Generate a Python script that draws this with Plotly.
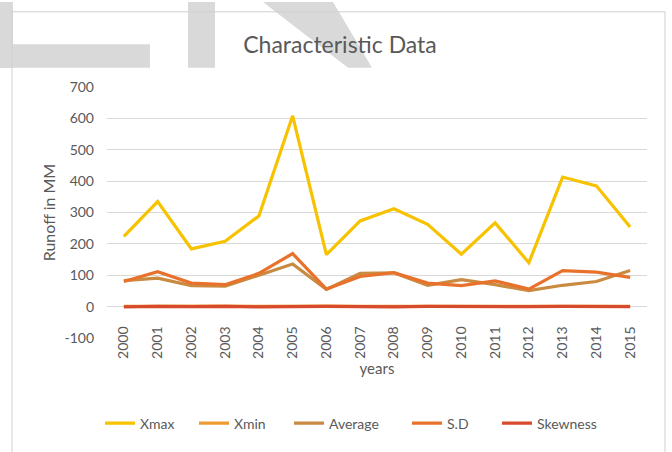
import plotly.graph_objects as go

years = [str(y) for y in range(2000, 2016)]
xmax = [224, 335, 184, 208, 289, 608, 166, 273, 312, 262, 167, 267, 140, 413, 385, 254]
xmin = [1, 2, 1, 2, 1, 2, 2, 1, 1, 2, 1, 2, 1, 2, 2, 1]
average = [83, 91, 67, 65, 100, 136, 55, 106, 108, 68, 86, 70, 51, 68, 80, 115]
sd = [80, 111, 75, 70, 106, 169, 56, 96, 108, 75, 67, 82, 56, 115, 110, 93]
skewness = [-1, 1, 0, 1, -1, 1, 1, 0, -1, 1, 0, 1, 0, 1, 1, 0]

y_ticks = [-100, 0, 100, 200, 300, 400, 500, 600, 700]
y_tick_labels = ["-100", "0", "100", "200", "300", "400", "500", "600", "700"]

names = ["Xmax", "Xmin", "Average", "S.D", "Skewness"]
colors = ["#F7C200", "#EE9A33", "#C98B42", "#E8722B", "#D84A2C"]
series = [xmax, xmin, average, sd, skewness]
legend_text_starts = [141, 235, 330, 448, 538]  # pixel x where each legend label begins

W, H = 672, 452
L, R, T, B = 107, 647, 86.7, 342.7

def px(x):
    return (x - L) / (R - L)

def py(y):
    return (B - y) / (B - T)

font_family = "Lato, 'Open Sans', sans-serif"
grey = "#595959"

fig = go.Figure()
legend_layout = {}
for i, (n, c, s, ts) in enumerate(zip(names, colors, series, legend_text_starts)):
    key = "legend" if i == 0 else "legend%d" % (i + 1)
    fig.add_trace(go.Scatter(x=years, y=s, name=n, mode="lines",
                             line=dict(color=c, width=3.2), legend=key))
    legend_layout[key] = dict(x=px(ts - 41), xanchor="left", y=py(430), yanchor="middle",
                              font=dict(size=14, color=grey, family=font_family),
                              bgcolor="rgba(0,0,0,0)", borderwidth=0,
                              itemwidth=30, tracegroupgap=0)

shapes = []
wm = "#d9d9d9"
shapes.append(dict(type="rect", xref="paper", yref="paper", x0=px(0), x1=px(13), y0=py(67), y1=py(0),
                   fillcolor=wm, line=dict(width=0), layer="below"))
shapes.append(dict(type="rect", xref="paper", yref="paper", x0=px(0), x1=px(150), y0=py(67), y1=py(43),
                   fillcolor=wm, line=dict(width=0), layer="below"))
shapes.append(dict(type="rect", xref="paper", yref="paper", x0=px(188), x1=px(215), y0=py(67), y1=py(0),
                   fillcolor=wm, line=dict(width=0), layer="below"))
path = "M {},{} L {},{} L {},{} L {},{} Z".format(px(263), py(0), px(333), py(0), px(372), py(67), px(348), py(67))
shapes.append(dict(type="path", xref="paper", yref="paper", path=path,
                   fillcolor=wm, line=dict(width=0), layer="below"))
shapes.append(dict(type="rect", xref="paper", yref="paper", x0=px(12), x1=px(665), y0=py(460), y1=py(10),
                   fillcolor="rgba(0,0,0,0)", line=dict(color="#d0d0d0", width=1), layer="below"))

fig.update_layout(
    width=W, height=H,
    margin=dict(l=L, r=W - R, t=T, b=H - B, pad=0),
    paper_bgcolor="white", plot_bgcolor="rgba(0,0,0,0)",
    font=dict(family=font_family, color=grey, size=14),
    title=dict(text="Characteristic Data", x=340 / W, xref="container", xanchor="center",
               y=1 - 45 / H, yref="container", yanchor="middle",
               font=dict(size=23, color=grey, family=font_family)),
    showlegend=True,
    shapes=shapes,
    xaxis=dict(type="category", range=[-0.5, len(years) - 0.5], anchor="free", position=py(310.7),
               showgrid=False, showline=False, zeroline=False, ticks="", tickangle=-90,
               tickfont=dict(size=14, color=grey), ticklabelstandoff=16,
               title=dict(text="years", font=dict(size=15, color=grey), standoff=5)),
    yaxis=dict(range=[-100, 700], tickvals=y_ticks, ticktext=y_tick_labels, showgrid=True,
               gridcolor="#d9d9d9", gridwidth=1, zeroline=False, showline=False, ticks="",
               tickfont=dict(size=14, color=grey), ticklabelstandoff=12,
               title=dict(text="Runoff in MM", font=dict(size=16, color=grey), standoff=4)),
    **legend_layout,
)

fig.write_html("out.html")
